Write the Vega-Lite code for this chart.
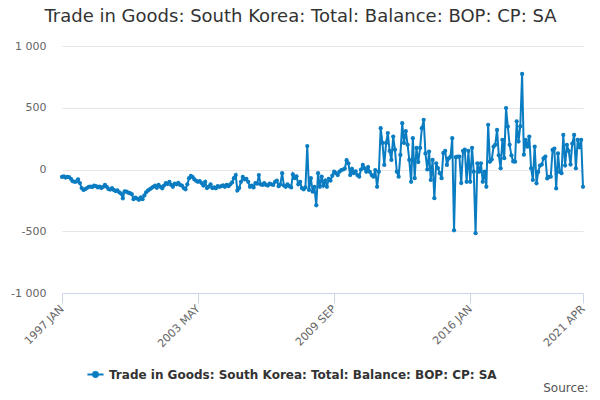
{
  "$schema": "https://vega.github.io/schema/vega-lite/v6.json",
  "description": "Trade in Goods: South Korea, monthly balance",
  "autosize": "none",
  "width": 521,
  "height": 247,
  "padding": {"left": 62, "top": 46, "right": 17, "bottom": 107},
  "background": "white",
  "config": {
    "font": "DejaVu Sans",
    "view": {"stroke": null}
  },
  "title": {
    "text": "Trade in Goods: South Korea: Total: Balance: BOP: CP: SA",
    "anchor": "middle",
    "frame": "group",
    "dx": -22,
    "offset": 14,
    "fontSize": 18,
    "fontWeight": "normal",
    "color": "#333333"
  },
  "data": {
    "values": [
      {"date": "1997-01", "value": -60}, {"date": "1997-02", "value": -55}, {"date": "1997-03", "value": -65}, {"date": "1997-04", "value": -60},
      {"date": "1997-05", "value": -62}, {"date": "1997-06", "value": -75}, {"date": "1997-07", "value": -95}, {"date": "1997-08", "value": -100},
      {"date": "1997-09", "value": -98}, {"date": "1997-10", "value": -80}, {"date": "1997-11", "value": -110}, {"date": "1997-12", "value": -150},
      {"date": "1998-01", "value": -165}, {"date": "1998-02", "value": -158}, {"date": "1998-03", "value": -150}, {"date": "1998-04", "value": -140},
      {"date": "1998-05", "value": -138}, {"date": "1998-06", "value": -142}, {"date": "1998-07", "value": -130}, {"date": "1998-08", "value": -135},
      {"date": "1998-09", "value": -145}, {"date": "1998-10", "value": -138}, {"date": "1998-11", "value": -150}, {"date": "1998-12", "value": -140},
      {"date": "1999-01", "value": -125}, {"date": "1999-02", "value": -140}, {"date": "1999-03", "value": -158}, {"date": "1999-04", "value": -162},
      {"date": "1999-05", "value": -150}, {"date": "1999-06", "value": -165}, {"date": "1999-07", "value": -175}, {"date": "1999-08", "value": -170},
      {"date": "1999-09", "value": -185}, {"date": "1999-10", "value": -195}, {"date": "1999-11", "value": -232}, {"date": "1999-12", "value": -178},
      {"date": "2000-01", "value": -180}, {"date": "2000-02", "value": -188}, {"date": "2000-03", "value": -192}, {"date": "2000-04", "value": -200},
      {"date": "2000-05", "value": -240}, {"date": "2000-06", "value": -228}, {"date": "2000-07", "value": -235}, {"date": "2000-08", "value": -245},
      {"date": "2000-09", "value": -225}, {"date": "2000-10", "value": -240}, {"date": "2000-11", "value": -210}, {"date": "2000-12", "value": -185},
      {"date": "2001-01", "value": -170}, {"date": "2001-02", "value": -160}, {"date": "2001-03", "value": -150}, {"date": "2001-04", "value": -140},
      {"date": "2001-05", "value": -130}, {"date": "2001-06", "value": -148}, {"date": "2001-07", "value": -125}, {"date": "2001-08", "value": -140},
      {"date": "2001-09", "value": -152}, {"date": "2001-10", "value": -130}, {"date": "2001-11", "value": -110}, {"date": "2001-12", "value": -118},
      {"date": "2002-01", "value": -100}, {"date": "2002-02", "value": -125}, {"date": "2002-03", "value": -140}, {"date": "2002-04", "value": -115},
      {"date": "2002-05", "value": -120}, {"date": "2002-06", "value": -108}, {"date": "2002-07", "value": -125}, {"date": "2002-08", "value": -130},
      {"date": "2002-09", "value": -150}, {"date": "2002-10", "value": -160}, {"date": "2002-11", "value": -120}, {"date": "2002-12", "value": -70},
      {"date": "2003-01", "value": -52}, {"date": "2003-02", "value": -62}, {"date": "2003-03", "value": -80}, {"date": "2003-04", "value": -92},
      {"date": "2003-05", "value": -100}, {"date": "2003-06", "value": -95}, {"date": "2003-07", "value": -110}, {"date": "2003-08", "value": -130},
      {"date": "2003-09", "value": -100}, {"date": "2003-10", "value": -150}, {"date": "2003-11", "value": -140}, {"date": "2003-12", "value": -120},
      {"date": "2004-01", "value": -150}, {"date": "2004-02", "value": -145}, {"date": "2004-03", "value": -152}, {"date": "2004-04", "value": -135},
      {"date": "2004-05", "value": -140}, {"date": "2004-06", "value": -135}, {"date": "2004-07", "value": -128}, {"date": "2004-08", "value": -140},
      {"date": "2004-09", "value": -125}, {"date": "2004-10", "value": -135}, {"date": "2004-11", "value": -120}, {"date": "2004-12", "value": -105},
      {"date": "2005-01", "value": -70}, {"date": "2005-02", "value": -45}, {"date": "2005-03", "value": -170}, {"date": "2005-04", "value": -150},
      {"date": "2005-05", "value": -100}, {"date": "2005-06", "value": -60}, {"date": "2005-07", "value": -80}, {"date": "2005-08", "value": -75},
      {"date": "2005-09", "value": -100}, {"date": "2005-10", "value": -140}, {"date": "2005-11", "value": -130}, {"date": "2005-12", "value": -145},
      {"date": "2006-01", "value": -110}, {"date": "2006-02", "value": -115}, {"date": "2006-03", "value": -45}, {"date": "2006-04", "value": -120},
      {"date": "2006-05", "value": -125}, {"date": "2006-06", "value": -110}, {"date": "2006-07", "value": -125}, {"date": "2006-08", "value": -130},
      {"date": "2006-09", "value": -115}, {"date": "2006-10", "value": -120}, {"date": "2006-11", "value": -125}, {"date": "2006-12", "value": -100},
      {"date": "2007-01", "value": -90}, {"date": "2007-02", "value": -135}, {"date": "2007-03", "value": -120}, {"date": "2007-04", "value": -30},
      {"date": "2007-05", "value": -130}, {"date": "2007-06", "value": -140}, {"date": "2007-07", "value": -120}, {"date": "2007-08", "value": -135},
      {"date": "2007-09", "value": -145}, {"date": "2007-10", "value": -40}, {"date": "2007-11", "value": -70}, {"date": "2007-12", "value": -55},
      {"date": "2008-01", "value": -120}, {"date": "2008-02", "value": -100}, {"date": "2008-03", "value": -150}, {"date": "2008-04", "value": -160},
      {"date": "2008-05", "value": -145}, {"date": "2008-06", "value": 190}, {"date": "2008-07", "value": -165}, {"date": "2008-08", "value": -70},
      {"date": "2008-09", "value": -180}, {"date": "2008-10", "value": -140}, {"date": "2008-11", "value": -290}, {"date": "2008-12", "value": -30},
      {"date": "2009-01", "value": -140}, {"date": "2009-02", "value": -58}, {"date": "2009-03", "value": -130}, {"date": "2009-04", "value": -90},
      {"date": "2009-05", "value": -140}, {"date": "2009-06", "value": -75}, {"date": "2009-07", "value": -90}, {"date": "2009-08", "value": -50},
      {"date": "2009-09", "value": -18}, {"date": "2009-10", "value": -30}, {"date": "2009-11", "value": -45}, {"date": "2009-12", "value": -18},
      {"date": "2010-01", "value": -5}, {"date": "2010-02", "value": 0}, {"date": "2010-03", "value": 8}, {"date": "2010-04", "value": 75},
      {"date": "2010-05", "value": 50}, {"date": "2010-06", "value": -45}, {"date": "2010-07", "value": 5}, {"date": "2010-08", "value": -30},
      {"date": "2010-09", "value": -15}, {"date": "2010-10", "value": -45}, {"date": "2010-11", "value": -58}, {"date": "2010-12", "value": 0},
      {"date": "2011-01", "value": 37}, {"date": "2011-02", "value": 10}, {"date": "2011-03", "value": -18}, {"date": "2011-04", "value": 20},
      {"date": "2011-05", "value": -20}, {"date": "2011-06", "value": -45}, {"date": "2011-07", "value": -58}, {"date": "2011-08", "value": -5},
      {"date": "2011-09", "value": -140}, {"date": "2011-10", "value": -18}, {"date": "2011-11", "value": 335}, {"date": "2011-12", "value": 215},
      {"date": "2012-01", "value": 37}, {"date": "2012-02", "value": 215}, {"date": "2012-03", "value": 295}, {"date": "2012-04", "value": 150},
      {"date": "2012-05", "value": 77}, {"date": "2012-06", "value": 267}, {"date": "2012-07", "value": 160}, {"date": "2012-08", "value": -18},
      {"date": "2012-09", "value": -58}, {"date": "2012-10", "value": 118}, {"date": "2012-11", "value": 375}, {"date": "2012-12", "value": 215},
      {"date": "2013-01", "value": 310}, {"date": "2013-02", "value": 200}, {"date": "2013-03", "value": 77}, {"date": "2013-04", "value": -100},
      {"date": "2013-05", "value": 254}, {"date": "2013-06", "value": -70}, {"date": "2013-07", "value": 175}, {"date": "2013-08", "value": 60},
      {"date": "2013-09", "value": 175}, {"date": "2013-10", "value": 335}, {"date": "2013-11", "value": 402}, {"date": "2013-12", "value": 130},
      {"date": "2014-01", "value": 0}, {"date": "2014-02", "value": 145}, {"date": "2014-03", "value": -85}, {"date": "2014-04", "value": 77},
      {"date": "2014-05", "value": -232}, {"date": "2014-06", "value": 50}, {"date": "2014-07", "value": 12}, {"date": "2014-08", "value": -30},
      {"date": "2014-09", "value": -70}, {"date": "2014-10", "value": 134}, {"date": "2014-11", "value": 150}, {"date": "2014-12", "value": 37},
      {"date": "2015-01", "value": 90}, {"date": "2015-02", "value": 105}, {"date": "2015-03", "value": 254}, {"date": "2015-04", "value": -492},
      {"date": "2015-05", "value": 100}, {"date": "2015-06", "value": 105}, {"date": "2015-07", "value": 105}, {"date": "2015-08", "value": -110},
      {"date": "2015-09", "value": 150}, {"date": "2015-10", "value": 160}, {"date": "2015-11", "value": -100}, {"date": "2015-12", "value": 150},
      {"date": "2016-01", "value": -100}, {"date": "2016-02", "value": 175}, {"date": "2016-03", "value": -18}, {"date": "2016-04", "value": -516},
      {"date": "2016-05", "value": 50}, {"date": "2016-06", "value": -18}, {"date": "2016-07", "value": 50}, {"date": "2016-08", "value": -100},
      {"date": "2016-09", "value": -18}, {"date": "2016-10", "value": -140}, {"date": "2016-11", "value": 362}, {"date": "2016-12", "value": 63},
      {"date": "2017-01", "value": 80}, {"date": "2017-02", "value": 185}, {"date": "2017-03", "value": 200}, {"date": "2017-04", "value": 320},
      {"date": "2017-05", "value": 115}, {"date": "2017-06", "value": 10}, {"date": "2017-07", "value": 240}, {"date": "2017-08", "value": 92},
      {"date": "2017-09", "value": 497}, {"date": "2017-10", "value": 348}, {"date": "2017-11", "value": 200}, {"date": "2017-12", "value": 115},
      {"date": "2018-01", "value": 65}, {"date": "2018-02", "value": 63}, {"date": "2018-03", "value": 390}, {"date": "2018-04", "value": 226},
      {"date": "2018-05", "value": 350}, {"date": "2018-06", "value": 774}, {"date": "2018-07", "value": 120}, {"date": "2018-08", "value": 240},
      {"date": "2018-09", "value": 185}, {"date": "2018-10", "value": 267}, {"date": "2018-11", "value": 10}, {"date": "2018-12", "value": -85},
      {"date": "2019-01", "value": 185}, {"date": "2019-02", "value": -112}, {"date": "2019-03", "value": -20}, {"date": "2019-04", "value": 32},
      {"date": "2019-05", "value": 40}, {"date": "2019-06", "value": 91}, {"date": "2019-07", "value": 105}, {"date": "2019-08", "value": -72},
      {"date": "2019-09", "value": -60}, {"date": "2019-10", "value": -58}, {"date": "2019-11", "value": 158}, {"date": "2019-12", "value": 170},
      {"date": "2020-01", "value": -153}, {"date": "2020-02", "value": 130}, {"date": "2020-03", "value": -20}, {"date": "2020-04", "value": -30},
      {"date": "2020-05", "value": 280}, {"date": "2020-06", "value": 32}, {"date": "2020-07", "value": 200}, {"date": "2020-08", "value": 150},
      {"date": "2020-09", "value": 40}, {"date": "2020-10", "value": 210}, {"date": "2020-11", "value": 280}, {"date": "2020-12", "value": 10},
      {"date": "2021-01", "value": 240}, {"date": "2021-02", "value": 180}, {"date": "2021-03", "value": 240}, {"date": "2021-04", "value": -140}
    ]
  },
  "mark": {
    "type": "line",
    "strokeWidth": 2,
    "point": {"filled": true, "size": 18}
  },
  "encoding": {
    "x": {
      "field": "date",
      "type": "temporal",
      "timeUnit": "utcyearmonth",
      "scale": {"nice": false},
      "axis": {
        "values": [
          {"year": 1997, "month": 1, "utc": true},
          {"year": 2003, "month": 5, "utc": true},
          {"year": 2009, "month": 9, "utc": true},
          {"year": 2016, "month": 1, "utc": true},
          {"year": 2021, "month": 4, "utc": true}
        ],
        "labelExpr": "upper(utcFormat(datum.value, '%Y %b'))",
        "labelAngle": -45,
        "labelAlign": "right",
        "labelBaseline": "middle",
        "labelFontSize": 11,
        "labelColor": "#666666",
        "labelPadding": 4,
        "labelOverlap": false,
        "labelFlush": false,
        "grid": false,
        "domainColor": "#ccd6eb",
        "tickColor": "#ccd6eb",
        "tickSize": 10,
        "title": "Source:",
        "titleFontSize": 12,
        "titleFontWeight": "normal",
        "titleColor": "#555555",
        "titleAnchor": "end",
        "titleAlign": "right",
        "titleBaseline": "alphabetic",
        "titleX": 526,
        "titleY": 98
      }
    },
    "y": {
      "field": "value",
      "type": "quantitative",
      "scale": {"domain": [-1000, 1000], "nice": false},
      "axis": {
        "values": [-1000, -500, 0, 500, 1000],
        "labelExpr": "datum.value == 1000 ? '1 000' : datum.value == -1000 ? '-1 000' : '' + datum.value",
        "labelFontSize": 11,
        "labelColor": "#666666",
        "labelPadding": 16,
        "domain": false,
        "ticks": false,
        "gridColor": "#e6e6e6",
        "title": null
      }
    },
    "color": {
      "datum": "Trade in Goods: South Korea: Total: Balance: BOP: CP: SA",
      "type": "nominal",
      "scale": {"range": ["#0a7cc1"]},
      "legend": {
        "title": null,
        "orient": "none",
        "legendX": 24,
        "legendY": 319,
        "symbolType": "M-1,0H1M0,-0.3A0.3,0.3 0 1,1 0,0.3A0.3,0.3 0 1,1 0,-0.3Z",
        "symbolSize": 260,
        "symbolStrokeWidth": 2,
        "labelFontSize": 12,
        "labelFontWeight": "bold",
        "labelColor": "#333333",
        "labelLimit": 600
      }
    }
  }
}
